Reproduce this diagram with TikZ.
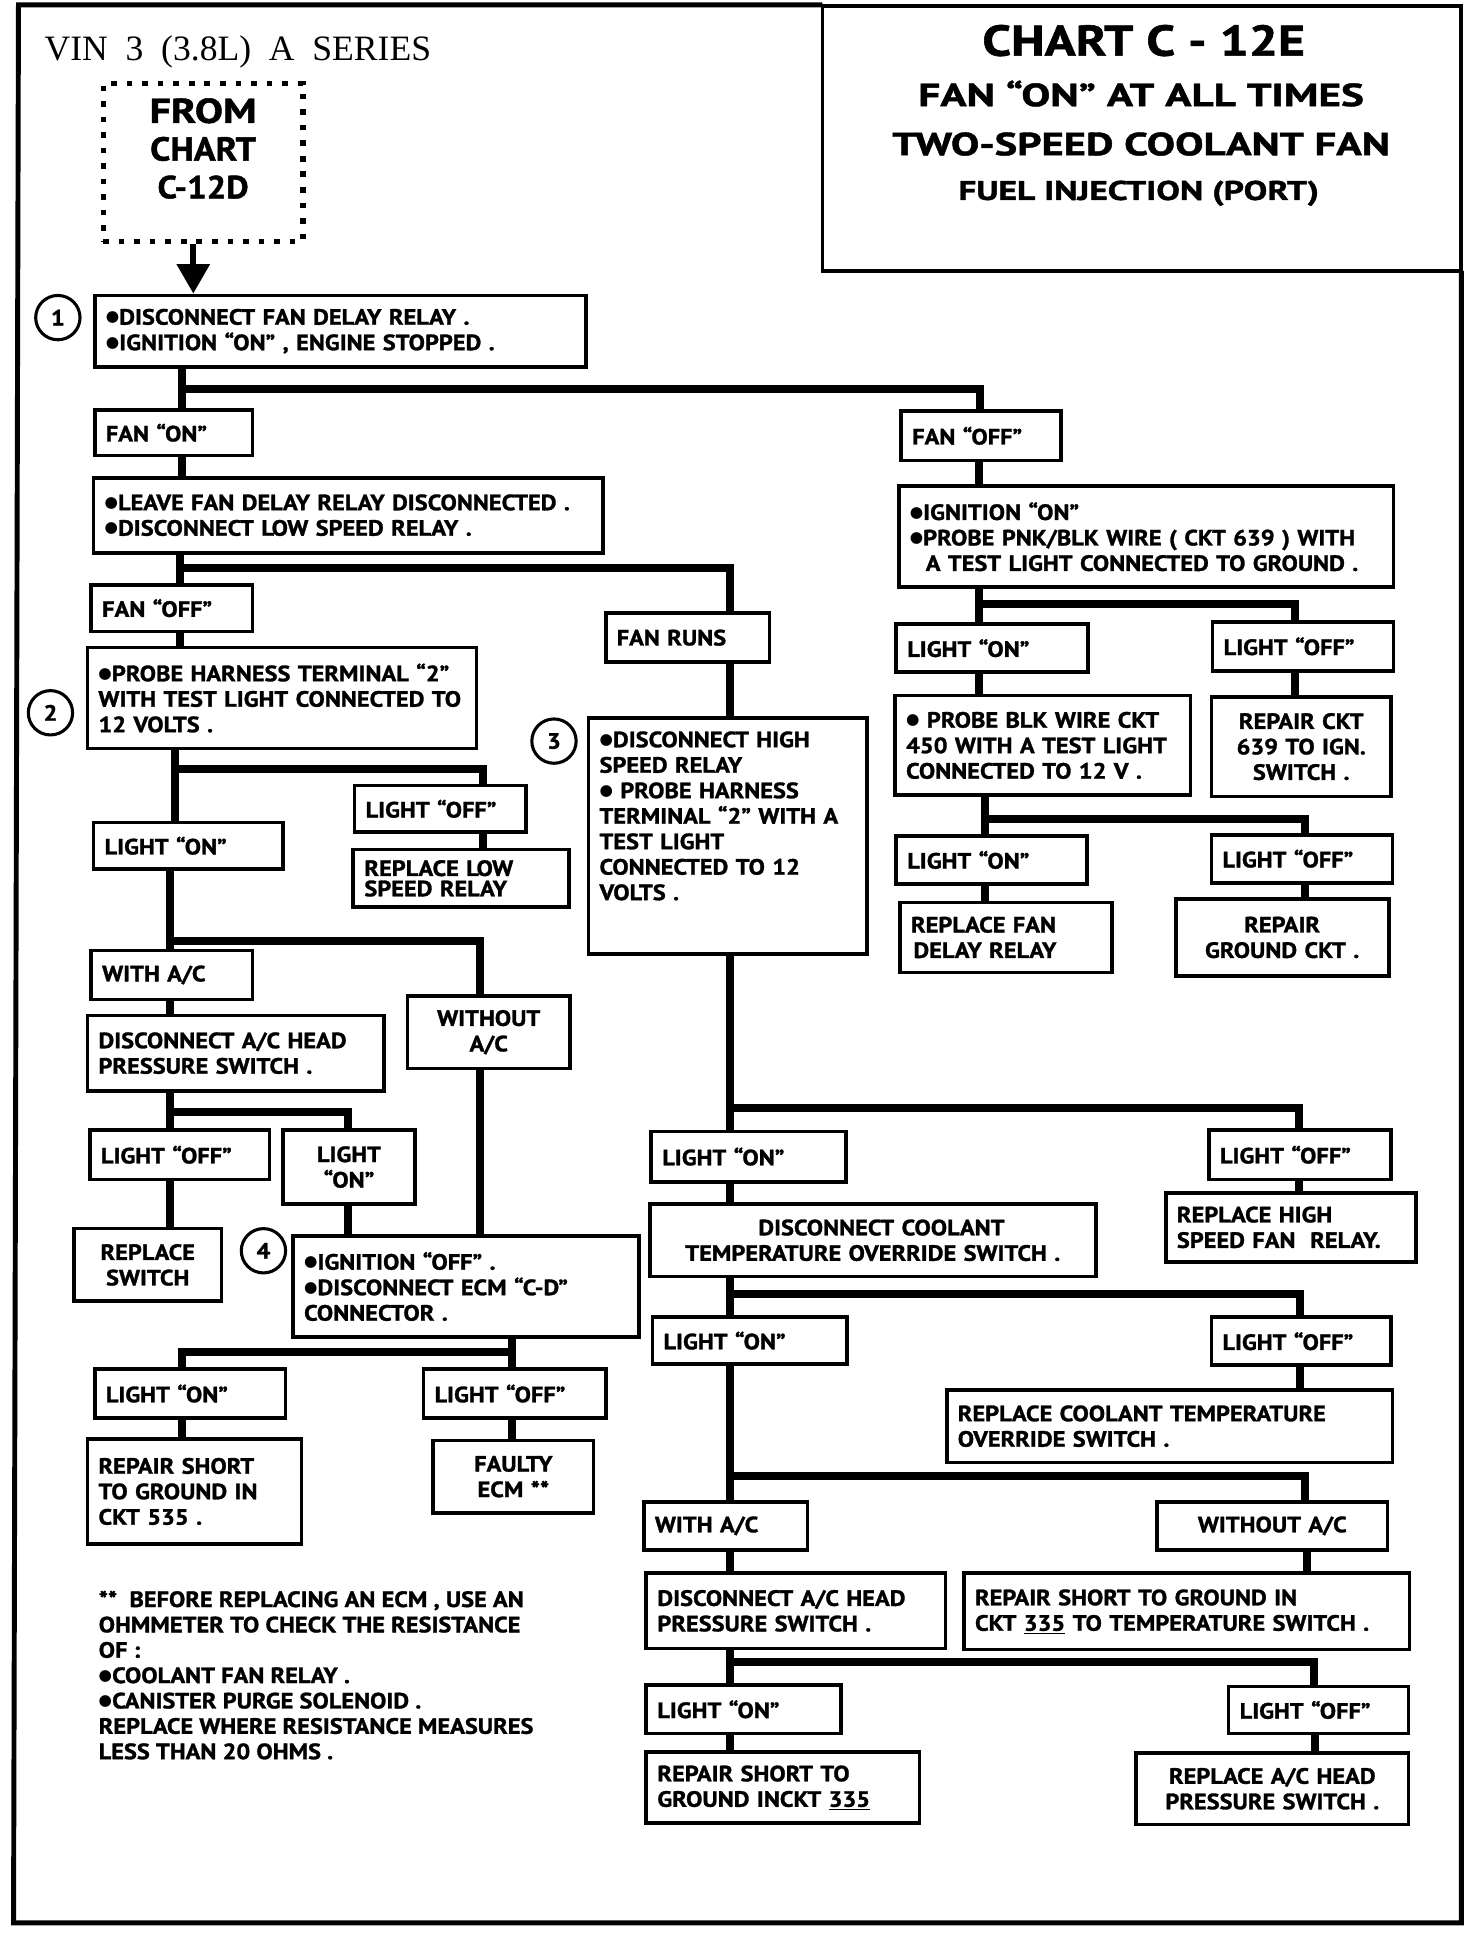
\documentclass[tikz,border=0pt]{standalone}
\usepackage{fontspec}
\usepackage{graphicx}
\usetikzlibrary{arrows.meta}
\newfontfamily\cf[BoldFeatures={FakeStretch=1.1,FakeBold=1.3}]{PT Sans}
\newfontfamily\vinfont{Liberation Serif}
\newfontfamily\dvs{DejaVu Sans}
\newcommand\bxsep{9}
\newcommand\bl{\raisebox{2.2pt}{\dvs\fontsize{12.5}{12.5}\selectfont ●}}
\newcommand\bxn[7][]{%
  \pgfmathsetmacro\bw{#5-#3}\pgfmathsetmacro\bh{#6-#4}%
  \pgfmathsetmacro\tw{#5-#3-2*\bxsep}%
  \pgfmathsetmacro\cx{(#3+#5)/2}\pgfmathsetmacro\cy{(#4+#6)/2}%
  \node[bx,minimum width=\bw pt,minimum height=\bh pt,text width=\tw pt,#1] (#2) at (\cx,\cy) {#7};}
\newcommand\fitw[2]{\resizebox{#1}{\height}{#2}}
\begin{document}
\begin{tikzpicture}[x=1pt,y=-1pt,
  bx/.style={draw,line width=3pt,inner xsep=9pt,inner ysep=0pt,align=left,
     font=\cf\bfseries\fontsize{18}{20.7}\selectfont},
  cc/.style={align=center},
  cn/.style={line width=6.5pt},
  num/.style={draw,circle,line width=2.5pt,minimum size=36pt,inner sep=0pt,
     font=\cf\bfseries\fontsize{18}{18}\selectfont},
  ttl/.style={inner sep=0pt,font=\cf\bfseries},
  note/.style={inner sep=0pt,align=left,font=\cf\bfseries\fontsize{18}{20.6}\selectfont}]
\useasboundingbox (0,0) rectangle (1196,1571);
% outer frame
\draw[line width=4pt] (668,4) -- (15,4) -- (11,1562) -- (1187,1562) -- (1187,220);
\node[draw,line width=3pt,minimum width=519pt,minimum height=215pt,inner sep=0pt] (title) at (927.5,112.5) {};
\node[ttl] (t1) at (929,33) {\fontsize{35}{35}\selectfont\fitw{262pt}{CHART C - 12E}};
\node[ttl] (t2) at (927,76) {\fontsize{26}{26}\selectfont\fitw{362pt}{FAN “ON” AT ALL TIMES}};
\node[ttl] (t3) at (927,117) {\fontsize{26}{26}\selectfont\fitw{404pt}{TWO-SPEED COOLANT FAN}};
\node[ttl] (t4) at (925,157) {\fontsize{22}{22}\selectfont\fitw{293pt}{FUEL INJECTION (PORT)}};
% VIN
\node[inner sep=0pt,anchor=west] (vin) at (36,42) {\vinfont\fontsize{29}{29}\selectfont\fitw{314pt}{VIN \ 3 \ (3.8L) \ A \ SERIES}};
% from chart
\node[draw,line width=4.5pt,dash pattern=on 4.5pt off 8.1pt,minimum width=162pt,minimum height=128pt,inner sep=0pt] (fromb) at (165,132) {};
\node[ttl] (f1) at (165,90) {\fontsize{28}{28}\selectfont\fitw{87pt}{FROM}};
\node[ttl] (f2) at (165,121) {\fontsize{27}{27}\selectfont\fitw{86pt}{CHART}};
\node[ttl] (f3) at (165,152) {\fontsize{26}{26}\selectfont\fitw{74pt}{C-12D}};
% boxes left
\bxn{b1}{77}{240}{476}{298}{\bl DISCONNECT FAN DELAY RELAY .\\\bl IGNITION “ON” , ENGINE STOPPED .}
\bxn{fanon}{77}{333}{205}{370}{FAN “ON”}
\bxn{leave}{76}{388}{490}{449}{\bl LEAVE FAN DELAY RELAY DISCONNECTED .\\\bl DISCONNECT LOW SPEED RELAY .}
\bxn{fanoffL}{74}{475}{205}{513}{FAN “OFF”}
\bxn{b2}{71}{526}{387}{608}{\bl PROBE HARNESS TERMINAL “2”\\WITH TEST LIGHT CONNECTED TO\\12 VOLTS .}
\bxn{lonA}{76}{668}{230}{706}{LIGHT “ON”}
\bxn{loffA}{288}{638}{427}{676}{LIGHT “OFF”}
\bxn[font=\cf\bfseries\fontsize{18}{16.5}\selectfont]{replow}{287}{690}{462}{737}{REPLACE LOW\\SPEED RELAY}
\bxn{withac1}{74}{772}{205}{812}{WITH A/C}
\bxn[cc]{withoutac1}{331}{809}{463}{868}{WITHOUT\\A/C}
\bxn{discac1}{71}{825}{312}{886}{DISCONNECT A/C HEAD\\PRESSURE SWITCH .}
\bxn{loffB}{73}{918}{219}{958}{LIGHT “OFF”}
\bxn[cc]{lonB}{230}{918}{337}{978}{LIGHT\\“ON”}
\bxn[cc]{repsw}{60}{998}{180}{1057}{REPLACE\\SWITCH}
\bxn{b4}{238}{1004}{519}{1086}{\bl IGNITION “OFF” .\\\bl DISCONNECT ECM “C-D”\\CONNECTOR .}
\bxn{lonC}{77}{1112}{232}{1152}{LIGHT “ON”}
\bxn{loffC}{344}{1112}{492}{1152}{LIGHT “OFF”}
\bxn{repshort1}{71}{1169}{245}{1254}{REPAIR SHORT\\TO GROUND IN\\CKT 535 .}
\bxn[cc]{faulty}{352}{1170}{482}{1229}{FAULTY\\ECM **}
\node[note,anchor=north west] (fn) at (80,1292) {** \ BEFORE REPLACING AN ECM , USE AN\\OHMMETER TO CHECK THE RESISTANCE\\OF :\\\bl COOLANT FAN RELAY .\\\bl CANISTER PURGE SOLENOID .\\REPLACE WHERE RESISTANCE MEASURES\\LESS THAN 20 OHMS .};
% right column
\bxn{fanoffR}{732}{334}{862}{374}{FAN “OFF”}
\bxn{ign}{730}{395}{1132}{477}{\bl IGNITION “ON”\\\bl PROBE PNK/BLK WIRE ( CKT 639 ) WITH\\\hspace*{13pt}A TEST LIGHT CONNECTED TO GROUND .}
\bxn{lonR1}{728}{507}{884}{546}{LIGHT “ON”}
\bxn{loffR1}{985}{505}{1132}{545}{LIGHT “OFF”}
\bxn{probeblk}{727}{565}{967}{646}{\bl\ PROBE BLK WIRE CKT\\450 WITH A TEST LIGHT\\CONNECTED TO 12 V .}
\bxn[cc]{rep639}{984}{566}{1130}{647}{REPAIR CKT\\639 TO IGN.\\SWITCH .}
\bxn{lonR2}{728}{679}{883}{718}{LIGHT “ON”}
\bxn{loffR2}{984}{678}{1131}{717}{LIGHT “OFF”}
\bxn{repfan}{731}{733}{903}{790}{REPLACE FAN\\\hspace*{2pt}DELAY RELAY}
\bxn[cc]{repgnd}{955}{730}{1128}{793}{REPAIR\\GROUND CKT .}
% middle column
\bxn{fanruns}{492}{498}{625}{538}{FAN RUNS}
\bxn{b3}{478}{583}{704}{775}{\bl DISCONNECT HIGH\\SPEED RELAY\\\bl\ PROBE HARNESS\\TERMINAL “2” WITH A\\TEST LIGHT\\CONNECTED TO 12\\VOLTS .\\\rule[-12pt]{0pt}{12pt}}
\bxn{lonM1}{529}{919}{687}{960}{LIGHT “ON”}
\bxn{loffM1}{982}{918}{1130}{958}{LIGHT “OFF”}
\bxn[cc]{disccool}{528}{978}{890}{1037}{\hspace*{14pt}DISCONNECT COOLANT\\TEMPERATURE OVERRIDE SWITCH .}
\bxn{rephigh}{947}{969}{1150}{1025}{REPLACE HIGH\\SPEED FAN \ RELAY.}
\bxn{lonM2}{530}{1070}{688}{1108}{LIGHT “ON”}
\bxn{loffM2}{984}{1070}{1130}{1109}{LIGHT “OFF”}
\bxn{repcool}{769}{1129}{1131}{1188}{REPLACE COOLANT TEMPERATURE\\OVERRIDE SWITCH .}
\bxn{withac2}{523}{1220}{656}{1259}{WITH A/C}
\bxn[cc]{withoutac2}{940}{1220}{1127}{1259}{WITHOUT A/C}
\bxn{disc2}{525}{1278}{768}{1339}{DISCONNECT A/C HEAD\\PRESSURE SWITCH .}
\bxn{repshort335}{783}{1278}{1145}{1340}{REPAIR SHORT TO GROUND IN\\CKT \underline{335} TO TEMPERATURE SWITCH .}
\bxn{lonM3}{525}{1369}{683}{1408}{LIGHT “ON”}
\bxn{loffM3}{998}{1370}{1144}{1408}{LIGHT “OFF”}
\bxn{repshort2}{525}{1423}{747}{1481}{REPAIR SHORT TO\\GROUND INCKT \underline{335}}
\bxn[cc]{repachead}{923}{1424}{1144}{1482}{REPLACE A/C HEAD\\PRESSURE SWITCH .}
% numbered circles
\node[num] (n1) at (47,258) {1};
\node[num] (n2) at (41,579) {2};
\node[num] (n3) at (450,602) {3};
\node[num] (n4) at (214,1016) {4};
% junction coordinates
\coordinate (j1) at (148,316);
\coordinate (j2) at (146,461);
\coordinate (j3) at (142,625);
\coordinate (j4) at (138,764);
\coordinate (j5) at (138,903);
\coordinate (j6) at (416,1098);
\coordinate (j7) at (795,491);
\coordinate (j8) at (800,665);
\coordinate (j9) at (593,900);
\coordinate (j10) at (593,1051);
\coordinate (j11) at (593,1199);
\coordinate (j12) at (593,1350);
% arrow
\draw[line width=5pt,-{Triangle[width=26pt,length=24pt]}] (fromb.south -| 157,0) -- (b1.north -| 157,0);
% connectors left
\draw[cn] (b1.south -| 148,0) -- (fanon.north -| 148,0);
\draw[cn] (j1) -| (fanoffR.north -| 796,0);
\draw[cn] (fanon.south -| 148,0) -- (leave.north -| 148,0);
\draw[cn] (leave.south -| 146,0) -- (fanoffL.north -| 146,0);
\draw[cn] (j2) -| (fanruns.north -| 593,0);
\draw[cn] (fanoffL.south -| 146,0) -- (b2.north -| 146,0);
\draw[cn] (b2.south -| 142,0) -- (lonA.north -| 142,0);
\draw[cn] (j3) -| (loffA.north -| 392,0);
\draw[cn] (loffA.south -| 392,0) -- (replow.north -| 392,0);
\draw[cn] (lonA.south -| 138,0) -- (withac1.north -| 138,0);
\draw[cn] (j4) -| (withoutac1.north -| 390,0);
\draw[cn] (withac1.south -| 138,0) -- (discac1.north -| 138,0);
\draw[cn] (withoutac1.south -| 390,0) -- (b4.north -| 390,0);
\draw[cn] (discac1.south -| 138,0) -- (loffB.north -| 138,0);
\draw[cn] (j5) -| (lonB.north -| 283,0);
\draw[cn] (loffB.south -| 138,0) -- (repsw.north -| 138,0);
\draw[cn] (lonB.south -| 283,0) -- (b4.north -| 283,0);
\draw[cn] (b4.south -| 416,0) -- (loffC.north -| 416,0);
\draw[cn] (j6) -| (lonC.north -| 148,0);
\draw[cn] (lonC.south -| 148,0) -- (repshort1.north -| 148,0);
\draw[cn] (loffC.south -| 416,0) -- (faulty.north -| 416,0);
% connectors right
\draw[cn] (fanoffR.south -| 795,0) -- (ign.north -| 795,0);
\draw[cn] (ign.south -| 795,0) -- (lonR1.north -| 795,0);
\draw[cn] (j7) -| (loffR1.north -| 1052,0);
\draw[cn] (lonR1.south -| 795,0) -- (probeblk.north -| 795,0);
\draw[cn] (loffR1.south -| 1052,0) -- (rep639.north -| 1052,0);
\draw[cn] (probeblk.south -| 800,0) -- (lonR2.north -| 800,0);
\draw[cn] (j8) -| (loffR2.north -| 1060,0);
\draw[cn] (lonR2.south -| 800,0) -- (repfan.north -| 800,0);
\draw[cn] (loffR2.south -| 1060,0) -- (repgnd.north -| 1060,0);
% connectors middle
\draw[cn] (fanruns.south -| 593,0) -- (b3.north -| 593,0);
\draw[cn] (b3.south -| 593,0) -- (lonM1.north -| 593,0);
\draw[cn] (j9) -| (loffM1.north -| 1055,0);
\draw[cn] (lonM1.south -| 593,0) -- (disccool.north -| 593,0);
\draw[cn] (loffM1.south -| 1055,0) -- (rephigh.north -| 1055,0);
\draw[cn] (disccool.south -| 593,0) -- (lonM2.north -| 593,0);
\draw[cn] (j10) -| (loffM2.north -| 1056,0);
\draw[cn] (loffM2.south -| 1056,0) -- (repcool.north -| 1056,0);
\draw[cn] (lonM2.south -| 593,0) -- (withac2.north -| 593,0);
\draw[cn] (j11) -| (withoutac2.north -| 1060,0);
\draw[cn] (withoutac2.south -| 1062,0) -- (repshort335.north -| 1062,0);
\draw[cn] (withac2.south -| 593,0) -- (disc2.north -| 593,0);
\draw[cn] (disc2.south -| 593,0) -- (lonM3.north -| 593,0);
\draw[cn] (j12) -| (loffM3.north -| 1067,0);
\draw[cn] (lonM3.south -| 593,0) -- (repshort2.north -| 593,0);
\draw[cn] (loffM3.south -| 1068,0) -- (repachead.north -| 1068,0);
\end{tikzpicture}
\end{document}
